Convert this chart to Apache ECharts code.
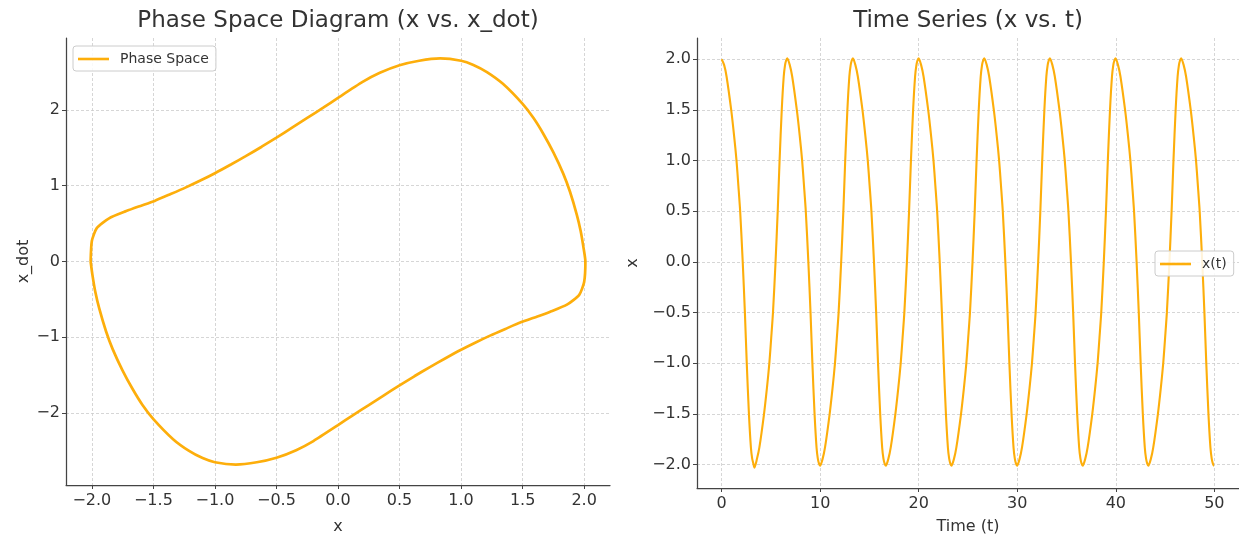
<!DOCTYPE html>
<html>
<head>
<meta charset="utf-8">
<script src="https://cdn.jsdelivr.net/npm/echarts@6/dist/echarts.min.js"></script>
<style>
html,body{margin:0;padding:0;background:#fff;}
#chart{width:1239px;height:540px;}
</style>
</head>
<body>
<div id="chart"></div>
<script>
// ---- Phase space loop (x, x_dot) ----
const phaseX = [-2.01, -2.0, -1.96, -1.86, -1.72, -1.62, -1.49, -1.36, -1.24, -1.11, -1.0, -0.87, -0.75, -0.62, -0.5, -0.37, -0.25, -0.12,
                0.0, 0.2, 0.34, 0.5, 0.66, 0.83, 1.0, 1.1, 1.21, 1.34, 1.5, 1.59, 1.67, 1.75, 1.83, 1.885, 1.94, 1.972, 1.995, 2.01,
                2.0, 1.96, 1.86, 1.72, 1.62, 1.49, 1.36, 1.24, 1.11, 1.0, 0.87, 0.75, 0.62, 0.5, 0.37, 0.25, 0.12,
                0.0, -0.2, -0.34, -0.5, -0.66, -0.83, -1.0, -1.1, -1.21, -1.34, -1.5, -1.59, -1.67, -1.75, -1.83, -1.885, -1.94, -1.972, -1.995, -2.01];
const phaseY = [0.0, 0.27, 0.44, 0.57, 0.665, 0.725, 0.80, 0.89, 0.975, 1.075, 1.165, 1.28, 1.39, 1.515, 1.635, 1.77, 1.895, 2.03,
                2.16, 2.37, 2.49, 2.59, 2.65, 2.68, 2.65, 2.595, 2.50, 2.345, 2.08, 1.89, 1.68, 1.44, 1.16, 0.92, 0.62, 0.40, 0.18, 0.0,
                -0.27, -0.44, -0.57, -0.665, -0.725, -0.80, -0.89, -0.975, -1.075, -1.165, -1.28, -1.39, -1.515, -1.635, -1.77, -1.895, -2.03,
                -2.16, -2.37, -2.49, -2.59, -2.65, -2.68, -2.65, -2.595, -2.50, -2.345, -2.08, -1.89, -1.68, -1.44, -1.16, -0.92, -0.62, -0.40, -0.18, 0.0];

// ---- Time series x(t) ----
const timeT = [
  0.00, 0.25, 0.50, 0.97, 1.27, 1.51, 1.70, 1.88, 2.14, 2.36, 2.55, 2.77, 2.97, 3.10, 3.22,
  3.33, 3.58, 3.83, 4.30, 4.60, 4.84, 5.03, 5.21, 5.47, 5.69, 5.88, 6.10, 6.30, 6.43, 6.55,
  6.66, 6.91, 7.16, 7.63, 7.93, 8.17, 8.36, 8.54, 8.80, 9.02, 9.21, 9.43, 9.63, 9.76, 9.88,
  9.99, 10.24, 10.49, 10.96, 11.26, 11.50, 11.69, 11.87, 12.13, 12.35, 12.54, 12.76, 12.96, 13.09, 13.21,
  13.32, 13.57, 13.82, 14.29, 14.59, 14.83, 15.02, 15.20, 15.46, 15.68, 15.87, 16.09, 16.29, 16.42, 16.54,
  16.66, 16.91, 17.16, 17.63, 17.93, 18.17, 18.36, 18.54, 18.80, 19.02, 19.21, 19.43, 19.63, 19.76, 19.88,
  19.99, 20.24, 20.49, 20.96, 21.26, 21.50, 21.69, 21.87, 22.13, 22.35, 22.54, 22.76, 22.96, 23.09, 23.21,
  23.32, 23.57, 23.82, 24.29, 24.59, 24.83, 25.02, 25.20, 25.46, 25.68, 25.87, 26.09, 26.29, 26.42, 26.54,
  26.65, 26.90, 27.15, 27.62, 27.92, 28.16, 28.35, 28.53, 28.79, 29.01, 29.20, 29.42, 29.62, 29.75, 29.87,
  29.98, 30.23, 30.48, 30.95, 31.25, 31.49, 31.68, 31.86, 32.12, 32.34, 32.53, 32.75, 32.95, 33.08, 33.20,
  33.31, 33.56, 33.81, 34.28, 34.58, 34.82, 35.01, 35.19, 35.45, 35.67, 35.86, 36.08, 36.28, 36.41, 36.53,
  36.64, 36.89, 37.14, 37.61, 37.91, 38.15, 38.34, 38.52, 38.78, 39.00, 39.19, 39.41, 39.61, 39.74, 39.86,
  39.97, 40.22, 40.47, 40.94, 41.24, 41.48, 41.67, 41.85, 42.11, 42.33, 42.52, 42.74, 42.94, 43.07, 43.19,
  43.30, 43.55, 43.80, 44.27, 44.57, 44.81, 45.00, 45.18, 45.44, 45.66, 45.85, 46.07, 46.27, 46.40, 46.52,
  46.63, 46.88, 47.13, 47.60, 47.90, 48.14, 48.33, 48.51, 48.77, 48.99, 49.18, 49.40, 49.60, 49.73, 49.85,
  49.96, 50.00
];
const timeX = [
  2.00, 1.945, 1.83, 1.50, 1.24, 1.00, 0.75, 0.50, 0.00, -0.50, -1.00, -1.50, -1.83, -1.94, -1.99,
  -2.03, -1.945, -1.83, -1.50, -1.24, -1.00, -0.75, -0.50, 0.00, 0.50, 1.00, 1.50, 1.83, 1.94, 1.99,
  2.01, 1.945, 1.83, 1.50, 1.24, 1.00, 0.75, 0.50, 0.00, -0.50, -1.00, -1.50, -1.83, -1.94, -1.99,
  -2.01, -1.945, -1.83, -1.50, -1.24, -1.00, -0.75, -0.50, 0.00, 0.50, 1.00, 1.50, 1.83, 1.94, 1.99,
  2.01, 1.945, 1.83, 1.50, 1.24, 1.00, 0.75, 0.50, 0.00, -0.50, -1.00, -1.50, -1.83, -1.94, -1.99,
  -2.01, -1.945, -1.83, -1.50, -1.24, -1.00, -0.75, -0.50, 0.00, 0.50, 1.00, 1.50, 1.83, 1.94, 1.99,
  2.01, 1.945, 1.83, 1.50, 1.24, 1.00, 0.75, 0.50, 0.00, -0.50, -1.00, -1.50, -1.83, -1.94, -1.99,
  -2.01, -1.945, -1.83, -1.50, -1.24, -1.00, -0.75, -0.50, 0.00, 0.50, 1.00, 1.50, 1.83, 1.94, 1.99,
  2.01, 1.945, 1.83, 1.50, 1.24, 1.00, 0.75, 0.50, 0.00, -0.50, -1.00, -1.50, -1.83, -1.94, -1.99,
  -2.01, -1.945, -1.83, -1.50, -1.24, -1.00, -0.75, -0.50, 0.00, 0.50, 1.00, 1.50, 1.83, 1.94, 1.99,
  2.01, 1.945, 1.83, 1.50, 1.24, 1.00, 0.75, 0.50, 0.00, -0.50, -1.00, -1.50, -1.83, -1.94, -1.99,
  -2.01, -1.945, -1.83, -1.50, -1.24, -1.00, -0.75, -0.50, 0.00, 0.50, 1.00, 1.50, 1.83, 1.94, 1.99,
  2.01, 1.945, 1.83, 1.50, 1.24, 1.00, 0.75, 0.50, 0.00, -0.50, -1.00, -1.50, -1.83, -1.94, -1.99,
  -2.01, -1.945, -1.83, -1.50, -1.24, -1.00, -0.75, -0.50, 0.00, 0.50, 1.00, 1.50, 1.83, 1.94, 1.99,
  2.01, 1.945, 1.83, 1.50, 1.24, 1.00, 0.75, 0.50, 0.00, -0.50, -1.00, -1.50, -1.83, -1.94, -1.99,
  -2.01, -2.005
];

// ---- Ticks and labels ----
const phaseXTicks = [-2, -1.5, -1, -0.5, 0, 0.5, 1, 1.5, 2];
const phaseXTickLabels = ['−2.0', '−1.5', '−1.0', '−0.5', '0.0', '0.5', '1.0', '1.5', '2.0'];
const phaseYTicks = [-2, -1, 0, 1, 2];
const phaseYTickLabels = ['−2', '−1', '0', '1', '2'];
const timeTTicks = [0, 10, 20, 30, 40, 50];
const timeTTickLabels = ['0', '10', '20', '30', '40', '50'];
const timeXTicks = [-2, -1.5, -1, -0.5, 0, 0.5, 1, 1.5, 2];
const timeXTickLabels = ['−2.0', '−1.5', '−1.0', '−0.5', '0.0', '0.5', '1.0', '1.5', '2.0'];

const titles = ['Phase Space Diagram (x vs. x_dot)', 'Time Series (x vs. t)'];
const seriesNames = ['Phase Space', 'x(t)'];
const axisNames = { phaseX: 'x', phaseY: 'x_dot', timeT: 'Time (t)', timeX: 'x' };

const FONT = 'DejaVu Sans';
const LINE_COLOR = '#FDAE0B';
const TEXT = '#333333';

function labelFor(ticks, labels) {
  return function (v) {
    for (let i = 0; i < ticks.length; i++) {
      if (Math.abs(ticks[i] - v) < 1e-9) return labels[i];
    }
    return '';
  };
}

function makeAxis(grid, min, max, ticks, labels, name, nameGap, isY) {
  return {
    type: 'value', gridIndex: grid, min: min, max: max,
    name: name, nameLocation: 'middle', nameGap: nameGap,
    nameRotate: isY ? 90 : 0,
    nameTextStyle: { fontFamily: FONT, fontSize: 16, color: TEXT },
    axisLine: { show: true, onZero: false, lineStyle: { color: '#444', width: 1.25 } },
    axisTick: { show: true, inside: false, length: 4, customValues: ticks, lineStyle: { color: '#444', width: 1 } },
    axisLabel: { show: true, customValues: ticks, formatter: labelFor(ticks, labels), fontFamily: FONT, fontSize: 16, color: TEXT, margin: isY ? 6 : 8 },
    splitLine: { show: true, lineStyle: { type: [3, 2], color: '#cccccc', width: 0.8 } }
  };
}

const chart = echarts.init(document.getElementById('chart'), null, { renderer: 'canvas' });

const legendCommon = {
  orient: 'vertical',
  padding: [6, 7, 5, 5],
  icon: 'rect',
  itemWidth: 31, itemHeight: 2.6,
  backgroundColor: 'rgba(255,255,255,0.85)',
  borderColor: '#cccccc', borderWidth: 1, borderRadius: 3,
  textStyle: { fontFamily: FONT, fontSize: 14, color: TEXT, padding: [0, 0, 0, 6] },
  selectedMode: false
};

chart.setOption({
  animation: false,
  backgroundColor: '#ffffff',
  graphic: [
    { type: 'text', x: 338, y: 10, style: { text: titles[0], textAlign: 'center', textVerticalAlign: 'top', font: '23px "DejaVu Sans"', fill: TEXT } },
    { type: 'text', x: 968, y: 10, style: { text: titles[1], textAlign: 'center', textVerticalAlign: 'top', font: '23px "DejaVu Sans"', fill: TEXT } }
  ],
  grid: [
    { left: 66, top: 38, width: 544, height: 452 },
    { left: 697, top: 38, width: 542, height: 452 }
  ],
  xAxis: [
    makeAxis(0, -2.21, 2.21, phaseXTicks, phaseXTickLabels, axisNames.phaseX, 34, false),
    makeAxis(1, -2.5, 52.5, timeTTicks, timeTTickLabels, axisNames.timeT, 31, false)
  ],
  yAxis: [
    makeAxis(0, -2.95, 2.95, phaseYTicks, phaseYTickLabels, axisNames.phaseY, 34, true),
    makeAxis(1, -2.23, 2.21, timeXTicks, timeXTickLabels, axisNames.timeX, 56, true)
  ],
  legend: [
    Object.assign({ data: [seriesNames[0]], left: 73, top: 46 }, legendCommon),
    Object.assign({ data: [seriesNames[1]], left: 1155, top: 251 }, legendCommon)
  ],
  series: [
    {
      name: seriesNames[0], type: 'line', xAxisIndex: 0, yAxisIndex: 0,
      data: phaseX.map((x, i) => [x, phaseY[i]]),
      symbol: 'none', smooth: 0.2,
      lineStyle: { color: LINE_COLOR, width: 2.7 }, itemStyle: { color: LINE_COLOR }
    },
    {
      name: seriesNames[1], type: 'line', xAxisIndex: 1, yAxisIndex: 1,
      data: timeT.map((t, i) => [t, timeX[i]]),
      symbol: 'none', smooth: 0.25,
      lineStyle: { color: LINE_COLOR, width: 2.1 }, itemStyle: { color: LINE_COLOR }
    }
  ]
});
</script>
</body>
</html>
